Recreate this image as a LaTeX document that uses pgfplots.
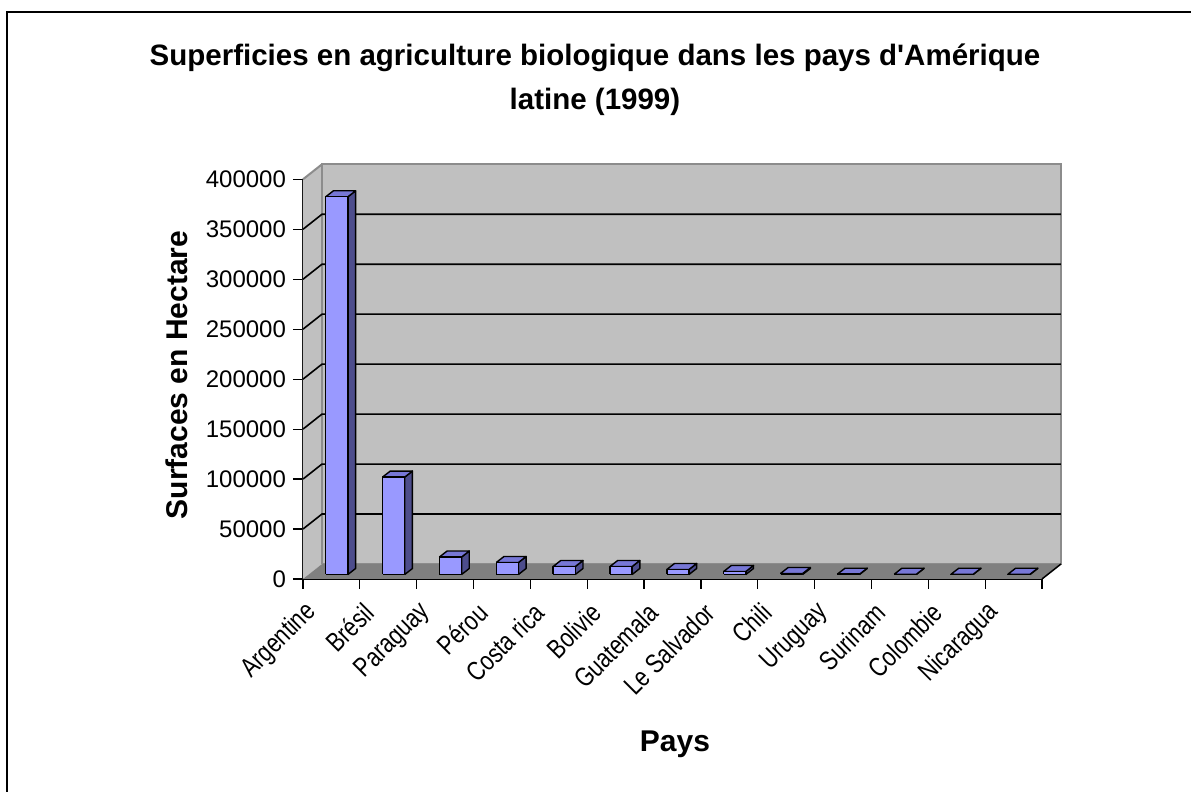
\documentclass[border=0pt]{standalone}
\usepackage{fontspec}
\setmainfont{Liberation Sans}[Ligatures=TeXOff]
\newfontfamily\narrowfont{Liberation Sans}[Ligatures=TeXOff, FakeStretch=0.8]
\usepackage{pgfplots}
\usepackage{pgfplotstable}
\pgfplotsset{compat=1.18}

\definecolor{wall}{HTML}{C0C0C0}
\definecolor{floorc}{HTML}{808080}
\definecolor{edgec}{HTML}{8C8C8C}
\definecolor{barfront}{HTML}{9999FF}
\definecolor{bartop}{HTML}{7777D6}
\definecolor{barside}{HTML}{4D4D8C}

% Surfaces en agriculture biologique (ha), 1999
\pgfplotstableread{
idx v
0 378000
1 97500
2 17500
3 12000
4 8000
5 8000
6 5000
7 3000
8 1000
9 300
10 250
11 250
12 250
}\surfaces

% corners of the visible faces of one column, relative to its category
\pgfplotstableread{
dx dy h
-0.10 4500 0
0.29 4500 0
0.29 4500 1
-0.10 4500 1
-0.10 4500 0
}\frontface
\pgfplotstableread{
dx dy h
-0.10 4500 1
0.29 4500 1
0.425 10500 1
0.035 10500 1
-0.10 4500 1
}\topface
\pgfplotstableread{
dx dy h
0.29 4500 0
0.425 10500 0
0.425 10500 1
0.29 4500 1
0.29 4500 0
}\sideface

\begin{document}
\begin{tikzpicture}
\useasboundingbox (0pt,0pt) rectangle (595.5pt,396pt);
\fill[white] (0pt,0pt) rectangle (595.5pt,396pt);
\draw[line width=1pt] (3.5pt,-1pt) -- (3.5pt,390pt) -- (597pt,390pt);

\node[anchor=base, font=\fontsize{14.75}{17}\selectfont\bfseries] at (297.5pt,363pt) {Superficies en agriculture biologique dans les pays d'Amérique};
\node[anchor=base, font=\fontsize{14.75}{17}\selectfont\bfseries] at (297.5pt,341pt) {latine (1999)};
\node[anchor=base, font=\fontsize{15}{17}\selectfont\bfseries] at (337.5pt,20pt) {Pays};
\node[rotate=90, anchor=center, font=\fontsize{15}{17}\selectfont\bfseries] at (88.5pt,208.5pt) {Surfaces en Hectare};

\begin{axis}[
  at={(151.5pt,106.5pt)}, anchor=south west,
  scale only axis, width=369.5pt, height=199.85pt,
  xmin=-0.5, xmax=12.5, ymin=0, ymax=400000,
  clip=false,
  axis lines*=left,
  axis line style={black, line width=0.75pt},
  tick style={black, line width=0.6pt},
  tick align=outside, major tick length=5pt,
  xtick={-0.5,0.5,...,12.5},
  x tick label as interval,
  xticklabels={Argentine,Brésil,Paraguay,Pérou,Costa rica,Bolivie,Guatemala,Le Salvador,Chili,Uruguay,Surinam,Colombie,Nicaragua},
  xticklabel style={rotate=45, anchor=east, xshift=-12pt, yshift=0pt, inner sep=1.5pt, font=\narrowfont\fontsize{13.5}{15}\selectfont},
  ytick={0,50000,100000,150000,200000,250000,300000,350000,400000},
  scaled y ticks=false,
  yticklabel style={/pgf/number format/fixed, /pgf/number format/1000 sep={}, font=\fontsize{12}{14}\selectfont},
  /pgf/number format/assume math mode=true,
]
% walls and floor
\addplot[fill=wall, draw=none] coordinates {(-0.5,0) (-0.166,15000) (-0.166,415000) (-0.5,400000)};
\addplot[fill=wall, draw=edgec, line width=1pt] coordinates {(-0.166,15000) (12.834,15000) (12.834,415000) (-0.166,415000) (-0.166,15000)};
\addplot[edgec, line width=1pt] coordinates {(-0.5,400000) (-0.166,415000)};
\addplot[fill=floorc, draw=none] coordinates {(-0.5,0) (12.5,0) (12.834,15000) (-0.166,15000)};
\addplot[black, line width=0.75pt] coordinates {(12.5,0) (12.834,15000)};
% grid lines
\addplot[black, line width=0.8pt] coordinates {(-0.5,50000) (-0.166,65000) (12.834,65000)};
\addplot[black, line width=0.8pt] coordinates {(-0.5,100000) (-0.166,115000) (12.834,115000)};
\addplot[black, line width=0.8pt] coordinates {(-0.5,150000) (-0.166,165000) (12.834,165000)};
\addplot[black, line width=0.8pt] coordinates {(-0.5,200000) (-0.166,215000) (12.834,215000)};
\addplot[black, line width=0.8pt] coordinates {(-0.5,250000) (-0.166,265000) (12.834,265000)};
\addplot[black, line width=0.8pt] coordinates {(-0.5,300000) (-0.166,315000) (12.834,315000)};
\addplot[black, line width=0.8pt] coordinates {(-0.5,350000) (-0.166,365000) (12.834,365000)};
% columns
\pgfplotsinvokeforeach{0,...,12}{
  \pgfplotstablegetelem{#1}{v}\of\surfaces
  \let\barv\pgfplotsretval
  \edef\drawcolumn{%
    \noexpand\addplot[fill=barside, draw=black, line width=0.7pt, line join=round] table[x expr=#1+\noexpand\thisrow{dx}, y expr=\noexpand\thisrow{dy}+\noexpand\thisrow{h}*\barv] {\noexpand\sideface};
    \noexpand\addplot[fill=bartop, draw=black, line width=0.7pt, line join=round] table[x expr=#1+\noexpand\thisrow{dx}, y expr=\noexpand\thisrow{dy}+\noexpand\thisrow{h}*\barv] {\noexpand\topface};
    \noexpand\addplot[fill=barfront, draw=black, line width=0.7pt, line join=round] table[x expr=#1+\noexpand\thisrow{dx}, y expr=\noexpand\thisrow{dy}+\noexpand\thisrow{h}*\barv] {\noexpand\frontface};
  }%
  \drawcolumn
}
\end{axis}
\end{tikzpicture}
\end{document}
